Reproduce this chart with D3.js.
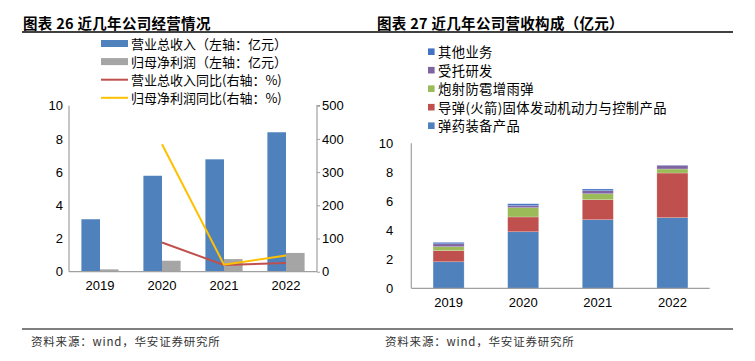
<!DOCTYPE html>
<html>
<head>
<meta charset="utf-8">
<script src="https://cdn.jsdelivr.net/npm/d3@7"></script>
<style>
  body { margin: 0; background: #fff; }
  svg { display: block; }
</style>
</head>
<body>
<script>
// data
const years = ['2019', '2020', '2021', '2022'];
const revenue = [3.16, 5.78, 6.77, 8.4];
const profit = [0.14, 0.66, 0.76, 1.13];
const revenueYoy = [null, 88, 20, 26];
const profitYoy = [null, 384, 21, 49];
const leftTicks = [0, 2, 4, 6, 8, 10];
const rightTicks = [0, 100, 200, 300, 400, 500];

const segNames = ['弹药装备产品', '导弹(火箭)固体发动机动力与控制产品', '炮射防雹增雨弹', '受托研发', '其他业务'];
const ammo = [1.83, 3.9, 4.73, 4.87];
const missile = [0.77, 1.02, 1.38, 3.08];
const hail = [0.27, 0.64, 0.41, 0.28];
const entrusted = [0.2, 0.14, 0.21, 0.25];
const other = [0.1, 0.13, 0.12, 0.02];
const stackTicks = [0, 2, 4, 6, 8, 10];

// constants
const W = 755, H = 361;
const cjk = '"Noto Sans CJK SC", sans-serif';
const num = '"Liberation Sans", Arial, sans-serif';
const axisColor = '#a0a0a0';

const svg = d3.select('body').append('svg').attr('width', W).attr('height', H);

// titles + rules
const titles = [
  { x: 23, text: '图表 26 近几年公司经营情况', x1: 22, x2: 377 },
  { x: 377, text: '图表 27 近几年公司营收构成（亿元）', x1: 377, x2: 733 }
];
titles.forEach((t) => {
  svg.append('text').attr('x', t.x).attr('y', 22).attr('dominant-baseline', 'central')
    .attr('font-family', cjk).attr('font-size', 14.5).attr('font-weight', 'bold')
    .attr('letter-spacing', 0.3).attr('fill', '#000').text(t.text);
  svg.append('line').attr('x1', t.x1).attr('x2', t.x2).attr('y1', 32).attr('y2', 32)
    .attr('stroke', '#000').attr('stroke-width', 1.5);
});

// footer
svg.append('line').attr('x1', 22).attr('x2', 733).attr('y1', 329).attr('y2', 329)
  .attr('stroke', '#000').attr('stroke-width', 1.2);
[31, 385].forEach((x) => {
  svg.append('text').attr('x', x).attr('y', 341).attr('dominant-baseline', 'central')
    .attr('font-family', cjk).attr('font-size', 11.5).attr('letter-spacing', 0.8).attr('fill', '#333')
    .text('资料来源：wind，华安证券研究所');
});

// ---------- left chart ----------
const L = { left: 69, right: 317, top: 105.7, bottom: 271.7 };
const x0 = d3.scaleBand().domain(years).range([L.left, L.right]).paddingInner(0.4).paddingOuter(0.2);
const x1 = d3.scaleBand().domain(['rev', 'pro']).range([0, x0.bandwidth()]);
const yL = d3.scaleLinear().domain([0, 10]).range([L.bottom, L.top]);
const yR = d3.scaleLinear().domain([0, 500]).range([L.bottom, L.top]);

const gL = svg.append('g');
gL.selectAll('rect.rev').data(years).join('rect')
  .attr('x', (d) => x0(d) + x1('rev')).attr('width', x1.bandwidth())
  .attr('y', (d, i) => yL(revenue[i])).attr('height', (d, i) => yL(0) - yL(revenue[i]))
  .attr('fill', '#4f81bd');
gL.selectAll('rect.pro').data(years).join('rect')
  .attr('x', (d) => x0(d) + x1('pro')).attr('width', x1.bandwidth())
  .attr('y', (d, i) => yL(profit[i])).attr('height', (d, i) => yL(0) - yL(profit[i]))
  .attr('fill', '#a5a5a5');

// axes
const axL = gL.append('g').attr('transform', `translate(${L.left},0)`)
  .call(d3.axisLeft(yL).tickValues(leftTicks).tickSize(0).tickPadding(6));
const axR = gL.append('g').attr('transform', `translate(${L.right},0)`)
  .call(d3.axisRight(yR).tickValues(rightTicks).tickSize(3).tickPadding(2));
const axB = gL.append('g').attr('transform', `translate(0,${L.bottom})`)
  .call(d3.axisBottom(x0).tickSize(0).tickPadding(9));
[axL, axR, axB].forEach((a) => {
  a.select('.domain').attr('stroke', axisColor).attr('stroke-width', 1.2);
  a.selectAll('line').attr('stroke', axisColor);
  a.selectAll('text').attr('font-family', num).attr('font-size', 13).attr('fill', '#000');
});
axL.select('.domain').attr('d', `M0,${L.top}V${L.bottom}`);
axR.select('.domain').attr('d', `M3,${L.top}H0V${L.bottom}`);
axB.select('.domain').attr('d', `M${L.left},0H${L.right}`);

// yoy lines
const lineGen = d3.line()
  .defined((d) => d.v != null)
  .x((d) => x0(d.year) + x0.bandwidth() / 2)
  .y((d) => yR(d.v));
[[revenueYoy, '#c0504d'], [profitYoy, '#ffc000']].forEach(([vals, c]) => {
  gL.append('path')
    .datum(years.map((year, i) => ({ year, v: vals[i] })))
    .attr('d', lineGen).attr('fill', 'none').attr('stroke', c).attr('stroke-width', 2);
});

// left legend
const legL = [
  { label: '营业总收入（左轴：亿元）', color: '#4f81bd', type: 'bar' },
  { label: '归母净利润（左轴：亿元）', color: '#a5a5a5', type: 'bar' },
  { label: '营业总收入同比(右轴：%)', color: '#c0504d', type: 'line' },
  { label: '归母净利润同比(右轴：%)', color: '#ffc000', type: 'line' }
];
const gLeg = svg.append('g').selectAll('g').data(legL).join('g')
  .attr('transform', (d, i) => `translate(101,${43.5 + i * 18.1})`);
gLeg.append('rect')
  .attr('x', 0).attr('width', 27)
  .attr('y', (d) => (d.type === 'bar' ? -3.5 : -1)).attr('height', (d) => (d.type === 'bar' ? 7 : 2))
  .attr('fill', (d) => d.color);
gLeg.append('text').attr('x', 30).attr('dominant-baseline', 'central')
  .attr('font-family', cjk).attr('font-size', 13).attr('fill', '#000')
  .text((d) => d.label);

// ---------- right chart ----------
const R = { left: 411.3, right: 709.7, top: 143.3, bottom: 288.3 };
const xs = d3.scaleBand().domain(years).range([R.left, R.right]).paddingInner(0.584).paddingOuter(0.292);
const ys = d3.scaleLinear().domain([0, 10]).range([R.bottom, R.top]);
const segColors = ['#4f81bd', '#c0504d', '#9bbb59', '#8064a2', '#4472c4'];
const table = years.map((year, i) => ({
  year,
  [segNames[0]]: ammo[i],
  [segNames[1]]: missile[i],
  [segNames[2]]: hail[i],
  [segNames[3]]: entrusted[i],
  [segNames[4]]: other[i]
}));
const stacked = d3.stack().keys(segNames)(table);

const gR = svg.append('g');
gR.selectAll('g.layer').data(stacked).join('g')
  .attr('fill', (d, i) => segColors[i])
  .selectAll('rect').data((d) => d).join('rect')
  .attr('x', (d) => xs(d.data.year)).attr('width', xs.bandwidth())
  .attr('y', (d) => ys(d[1])).attr('height', (d) => ys(d[0]) - ys(d[1]))
  .attr('stroke', 'rgba(255,255,255,0.35)').attr('stroke-width', 0.6);

const axSL = gR.append('g').attr('transform', `translate(${R.left},0)`)
  .call(d3.axisLeft(ys).tickValues(stackTicks).tickSize(0).tickPadding(18));
const axSB = gR.append('g').attr('transform', `translate(0,${R.bottom})`)
  .call(d3.axisBottom(xs).tickSize(0).tickPadding(9));
[axSL, axSB].forEach((a) => {
  a.select('.domain').attr('stroke', axisColor).attr('stroke-width', 1.2);
  a.selectAll('text').attr('font-family', num).attr('font-size', 13).attr('fill', '#000');
});
axSL.select('.domain').attr('d', `M0,${R.top}V${R.bottom}`);
axSB.select('.domain').attr('d', `M${R.left},0H${R.right}`);

// right legend (top entry = last stacked series)
const legR = segNames.map((name, i) => ({ name, color: segColors[i] })).reverse();
const gLegR = svg.append('g').selectAll('g').data(legR).join('g')
  .attr('transform', (d, i) => `translate(428,${51.7 + i * 18.5})`);
gLegR.append('rect').attr('x', 0).attr('y', -3.3).attr('width', 6.6).attr('height', 6.6)
  .attr('fill', (d) => d.color);
gLegR.append('text').attr('x', 10).attr('dominant-baseline', 'central')
  .attr('font-family', cjk).attr('font-size', 13.3).attr('letter-spacing', 0.4).attr('fill', '#000')
  .text((d) => d.name);
</script>
</body>
</html>
